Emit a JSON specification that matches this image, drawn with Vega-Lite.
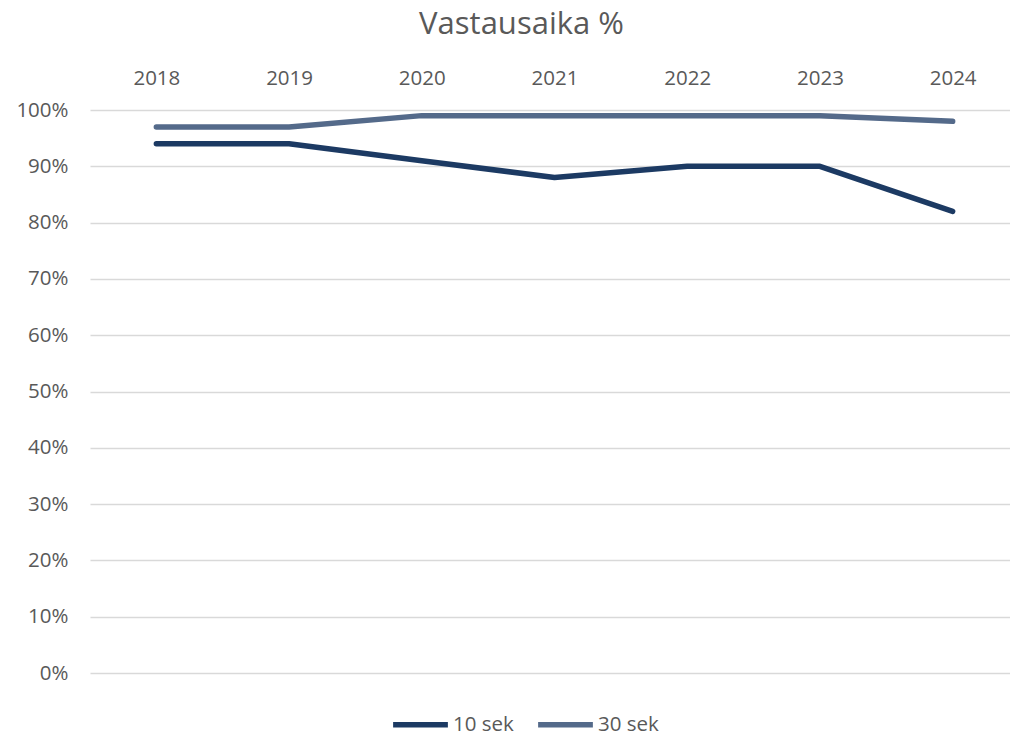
{
  "$schema": "https://vega.github.io/schema/vega-lite/v6.json",
  "width": 929,
  "height": 563,
  "autosize": {"type": "none"},
  "padding": {"left": 90, "top": 110, "right": 0, "bottom": 66},
  "background": "white",
  "config": {
    "font": "Open Sans",
    "view": {"stroke": null}
  },
  "title": {
    "text": "Vastausaika %",
    "fontSize": 31,
    "fontWeight": "normal",
    "color": "#595959",
    "font": "Open Sans",
    "anchor": "middle",
    "dx": -33,
    "offset": 27
  },
  "data": {
    "values": [
      {"year": "2018", "series": "10 sek", "value": 0.94},
      {"year": "2019", "series": "10 sek", "value": 0.94},
      {"year": "2020", "series": "10 sek", "value": 0.91},
      {"year": "2021", "series": "10 sek", "value": 0.88},
      {"year": "2022", "series": "10 sek", "value": 0.90},
      {"year": "2023", "series": "10 sek", "value": 0.90},
      {"year": "2024", "series": "10 sek", "value": 0.82},
      {"year": "2018", "series": "30 sek", "value": 0.97},
      {"year": "2019", "series": "30 sek", "value": 0.97},
      {"year": "2020", "series": "30 sek", "value": 0.99},
      {"year": "2021", "series": "30 sek", "value": 0.99},
      {"year": "2022", "series": "30 sek", "value": 0.99},
      {"year": "2023", "series": "30 sek", "value": 0.99},
      {"year": "2024", "series": "30 sek", "value": 0.98}
    ]
  },
  "mark": {"type": "line", "strokeWidth": 5.5, "strokeCap": "round", "strokeJoin": "round"},
  "encoding": {
    "x": {
      "field": "year",
      "type": "ordinal",
      "scale": {"type": "point", "padding": 0.5},
      "axis": {
        "orient": "top",
        "title": null,
        "domain": false,
        "ticks": false,
        "grid": false,
        "labelAngle": 0,
        "labelFontSize": 20.5,
        "labelColor": "#595959",
        "labelPadding": 22
      }
    },
    "y": {
      "field": "value",
      "type": "quantitative",
      "scale": {"domain": [0, 1], "nice": false},
      "axis": {
        "title": null,
        "values": [0, 0.1, 0.2, 0.3, 0.4, 0.5, 0.6, 0.7, 0.8, 0.9, 1],
        "format": ".0%",
        "domain": false,
        "ticks": false,
        "grid": true,
        "gridColor": "#d9d9d9",
        "gridWidth": 1.5,
        "labelFontSize": 20.5,
        "labelColor": "#595959",
        "labelPadding": 22
      }
    },
    "color": {
      "field": "series",
      "type": "nominal",
      "scale": {"domain": ["10 sek", "30 sek"], "range": ["#1c3a63", "#546a8a"]},
      "legend": {
        "title": null,
        "orient": "none",
        "direction": "horizontal",
        "legendX": 300,
        "legendY": 584,
        "symbolType": "stroke",
        "symbolSize": 3000,
        "symbolStrokeWidth": 5.5,
        "labelFontSize": 20.5,
        "labelColor": "#595959",
        "labelOffset": 2,
        "columnPadding": 13
      }
    }
  }
}
